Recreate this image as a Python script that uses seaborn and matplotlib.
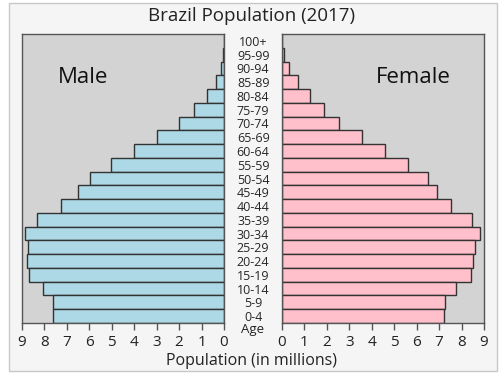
import seaborn as sns
import matplotlib.pyplot as plt
from matplotlib.patches import Rectangle
import pandas as pd

# age groups, top of the pyramid first
ages = ['100+', '95-99', '90-94', '85-89', '80-84', '75-79', '70-74', '65-69',
        '60-64', '55-59', '50-54', '45-49', '40-44', '35-39', '30-34', '25-29',
        '20-24', '15-19', '10-14', '5-9', '0-4']
# population in millions
male = [0.01, 0.06, 0.15, 0.37, 0.77, 1.32, 1.99, 2.98, 3.99, 5.03, 5.97,
        6.49, 7.25, 8.33, 8.87, 8.72, 8.77, 8.69, 8.05, 7.62, 7.60]
female = [0.02, 0.09, 0.30, 0.70, 1.23, 1.85, 2.55, 3.57, 4.58, 5.60, 6.49,
          6.92, 7.53, 8.46, 8.84, 8.58, 8.52, 8.40, 7.76, 7.27, 7.23]
ticks = list(range(10))

df = pd.DataFrame({'age': ages, 'male': male, 'female': female})

sns.set_theme(style='ticks')
plt.rcParams['font.family'] = ['Open Sans', 'DejaVu Sans']
plt.rcParams['axes.edgecolor'] = '#555555'
plt.rcParams['xtick.color'] = '#555555'
plt.rcParams['xtick.labelcolor'] = '#222222'

W, H = 500, 375
fig = plt.figure(figsize=(5, 3.75), dpi=100, facecolor='white')
# light frame round the whole chart
fig.patches.append(Rectangle((9 / W, 1 - 371 / H), 488 / W, 368 / H,
                             transform=fig.transFigure, facecolor='#f5f5f5',
                             edgecolor='#c8c8c8', linewidth=1, zorder=-10))

ax_m = fig.add_axes([22 / W, 1 - 323 / H, 202 / W, 289 / H])
ax_f = fig.add_axes([282 / W, 1 - 323 / H, 202 / W, 289 / H])

sns.barplot(data=df, x='male', y='age', order=ages, orient='h', color='#add8e6',
            saturation=1, edgecolor='#333333', linewidth=1, width=1.0, ax=ax_m)
sns.barplot(data=df, x='female', y='age', order=ages, orient='h', color='#ffc0cb',
            saturation=1, edgecolor='#333333', linewidth=1, width=1.0, ax=ax_f)

for ax in (ax_m, ax_f):
    ax.set_facecolor('#d3d3d3')
    ax.set_xticks(ticks)
    ax.set_xlabel('')
    ax.set_ylabel('')
    ax.tick_params(axis='x', length=5, width=1, labelsize=11, pad=4)
    for s in ax.spines.values():
        s.set_visible(True)
        s.set_linewidth(1)

ax_m.set_xlim(9, 0)
ax_f.set_xlim(0, 9)

# age labels in the gap between the two halves
ax_m.yaxis.tick_right()
ax_m.tick_params(axis='y', length=0, pad=21, labelsize=9)
for lab in ax_m.get_yticklabels():
    lab.set_ha('center')
ax_f.tick_params(axis='y', length=0, labelleft=False)

ax_m.text(0.3, 0.85, 'Male', transform=ax_m.transAxes, ha='center', va='center',
          fontsize=16, color='#111111')
ax_f.text(0.65, 0.85, 'Female', transform=ax_f.transAxes, ha='center', va='center',
          fontsize=16, color='#111111')

fig.text(253 / W, 1 - 330 / H, 'Age', ha='center', va='center', fontsize=9.5, color='#222222')
fig.text(252 / W, 1 - 16 / H, 'Brazil Population (2017)', ha='center', va='center',
         fontsize=13.5, color='#222222')
fig.text(252 / W, 1 - 361 / H, 'Population (in millions)', ha='center', va='center',
         fontsize=11.5, color='#222222')

fig.savefig('out.png', dpi=100, facecolor='white')
